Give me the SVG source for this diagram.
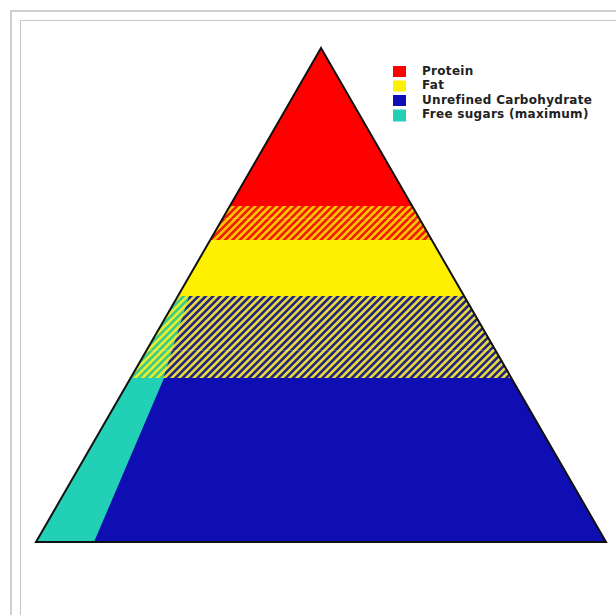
<svg xmlns="http://www.w3.org/2000/svg" width="616" height="615" viewBox="0 0 616 615">
  <style>
    .frame-outer { fill: none; stroke: #cfcfcf; stroke-width: 2; }
    .frame-inner { fill: none; stroke: #c8c8c8; stroke-width: 1; }
    .outline { fill: none; stroke: #111; stroke-width: 2; stroke-linejoin: miter; }
    .legend-text { font-family: "DejaVu Sans", "Liberation Sans", sans-serif; font-weight: bold; font-size: 12px; letter-spacing: 0.3px; fill: #222; }
    .sep { stroke: #ffffff; stroke-opacity: 0.18; stroke-width: 1; }
  </style>
  <defs>
    <clipPath id="tri">
      <polygon points="321,48 606,542 36,542"/>
    </clipPath>
    <pattern id="hatchRed" patternUnits="userSpaceOnUse" width="5.2" height="10" patternTransform="rotate(45)">
      <rect width="5.2" height="10" fill="#ffc400"/>
      <rect width="2.6" height="10" fill="#f01e00"/>
    </pattern>
    <pattern id="hatchBlue" patternUnits="userSpaceOnUse" width="5.2" height="10" patternTransform="rotate(45)">
      <rect width="5.2" height="10" fill="#e6d840"/>
      <rect width="2.6" height="10" fill="#25257c"/>
    </pattern>
    <pattern id="hatchCyan" patternUnits="userSpaceOnUse" width="5.2" height="10" patternTransform="rotate(45)">
      <rect width="5.2" height="10" fill="#e8ec30"/>
      <rect width="2.6" height="10" fill="#3ccc86"/>
    </pattern>
  </defs>

  <rect width="616" height="615" fill="#ffffff"/>
  <g id="frame">
    <rect class="frame-outer" x="11" y="11" width="700" height="700"/>
    <rect class="frame-inner" x="20.5" y="20.5" width="700" height="700"/>
  </g>

  <g id="pyramid" clip-path="url(#tri)">
    <g id="protein"><rect x="0" y="40" width="616" height="167" fill="#ff0000"/></g>
    <g id="protein-fat"><rect x="0" y="206" width="616" height="34" fill="url(#hatchRed)"/></g>
    <g id="fat"><rect x="0" y="240" width="616" height="57" fill="#fff000"/></g>
    <g id="fat-carb"><rect x="0" y="296" width="616" height="83" fill="url(#hatchBlue)"/></g>
    <g id="carb"><rect x="0" y="378" width="616" height="170" fill="#0e0eb2"/></g>
    <g id="free-sugars">
      <polygon points="0,296 189,296 163,379 0,379" fill="url(#hatchCyan)"/>
      <polygon points="0,378 164,378 94,542 0,542" fill="#22d0b6"/>
    </g>
    <line class="sep" x1="0" y1="218.5" x2="616" y2="218.5"/>
    <line class="sep" x1="0" y1="350.5" x2="616" y2="350.5"/>
  </g>
  <polygon id="outline" class="outline" points="321,48 606,542 36,542"/>

  <g id="legend">
    <g id="legend-protein">
      <rect x="393" y="66" width="13" height="11" fill="#ff0000"/>
      <text class="legend-text" x="422" y="75">Protein</text>
    </g>
    <g id="legend-fat">
      <rect x="393" y="80.5" width="13" height="11" fill="#fff000"/>
      <text class="legend-text" x="422" y="89">Fat</text>
    </g>
    <g id="legend-carb">
      <rect x="393" y="95" width="13" height="11" fill="#0e0eb2"/>
      <text class="legend-text" x="422" y="104">Unrefined Carbohydrate</text>
    </g>
    <g id="legend-sugar">
      <rect x="393" y="109.5" width="13" height="12" fill="#22d0b6"/>
      <text class="legend-text" x="422" y="118">Free sugars (maximum)</text>
    </g>
  </g>
</svg>
